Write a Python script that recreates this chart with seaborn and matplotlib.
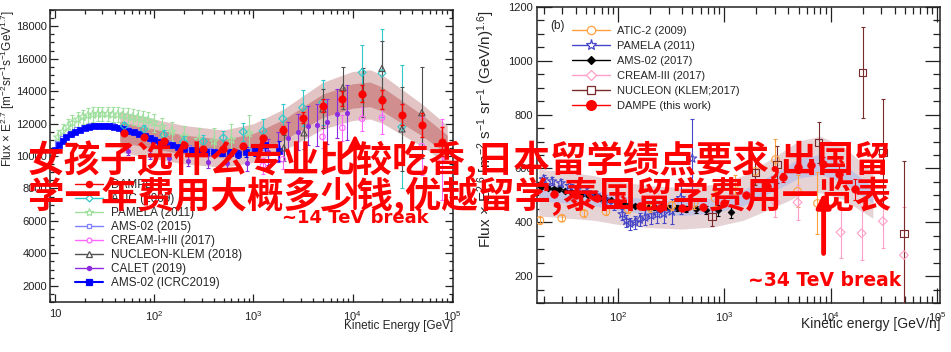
import numpy as np
import seaborn as sns
import matplotlib.pyplot as plt
from matplotlib.lines import Line2D
from matplotlib.ticker import LogLocator, MultipleLocator, FuncFormatter, NullFormatter

# ---------------- panel (a): protons, Flux x E^2.7 ----------------
pam_e = [10.7, 12, 13.5, 15, 17, 19, 21.5, 24, 27, 30, 34, 38, 43, 48, 54, 61, 68, 77, 87, 100, 120, 150, 200, 280, 400, 600, 900]
pam_v = [11150, 11500, 11800, 12050, 12250, 12400, 12500, 12550, 12600, 12600, 12600, 12550, 12550, 12500, 12450,
         12400, 12350, 12300, 12200, 12050, 11800, 11500, 11200, 11000, 10900, 11000, 11400]
pam_err = [450, 450, 450, 450, 450, 450, 450, 450, 450, 450, 450, 450, 450, 480, 480, 480, 500, 500, 520, 540, 560,
           600, 650, 700, 800, 950, 1100]

ams15_e = [10.5, 12, 14, 16.5, 19.5, 23, 27, 32, 38, 45, 54, 65, 78, 95, 115, 140, 175, 220, 280, 360, 480, 650, 900, 1300]
ams15_v = [10750, 11050, 11350, 11600, 11750, 11850, 11900, 11900, 11850, 11750, 11600, 11450, 11250, 11050, 10900,
           10750, 10600, 10500, 10400, 10350, 10300, 10300, 10400, 10500]

ams19_e = [10, 11, 12, 13, 14.5, 16, 18, 20, 22, 25, 28, 31, 35, 39, 44, 49, 55, 62, 70, 80, 90, 100, 115, 130, 150,
           175, 200, 240, 280, 330, 400, 480, 580, 700, 850, 1050, 1300, 1800]
ams19_v = [10400, 10700, 10950, 11150, 11350, 11500, 11620, 11720, 11780, 11830, 11850, 11850, 11830, 11790, 11720,
           11640, 11550, 11450, 11340, 11220, 11100, 11000, 10880, 10780, 10660, 10550, 10460, 10380, 10320, 10270,
           10230, 10200, 10200, 10150, 10250, 10350, 10700, 10300]
ams19_err = [60, 60, 60, 60, 60, 60, 60, 60, 60, 60, 60, 60, 60, 60, 60, 60, 60, 60, 70, 70, 70, 80, 80, 90, 90, 100,
             110, 120, 130, 140, 160, 180, 210, 250, 300, 360, 450, 600]

dampe_e = [50, 79, 125, 198, 314, 498, 790, 1250, 1980, 3140, 4980, 7900, 12500, 19800, 31400, 49800, 79000]
dampe_v = [11430, 11180, 10930, 10650, 10440, 10420, 10620, 11120, 11610, 12360, 13100, 13540, 13850, 13470, 12540,
           11920, 10870]
dampe_err = [80, 80, 80, 90, 100, 120, 150, 200, 260, 330, 400, 480, 550, 600, 650, 750, 900]

atic_e = [50, 79, 125, 198, 314, 498, 790, 1250, 1980, 3140, 4980, 12500, 19800, 31400]
atic_v = [11860, 11650, 11300, 10870, 10900, 11120, 11490, 11550, 12300, 12980, 13300, 15150, 15100, 11800]
atic_err = [250, 250, 300, 350, 400, 450, 550, 700, 900, 1100, 1400, 1700, 2700, 3800]

cream_e = [1250, 1980, 4980, 7900, 12500, 19800, 50000, 79000]
cream_v = [9400, 9800, 11180, 11740, 12300, 12360, 10600, 9800]
cream_err = [500, 600, 700, 800, 750, 1000, 1800, 2500]

nuc_e = [2030, 3240, 5030, 7970, 12700, 19800, 31500, 50000]
nuc_v = [10500, 11430, 12900, 14210, 13900, 15400, 11670, 12670]
nuc_err = [800, 1000, 1200, 1300, 1500, 1700, 2600, 2800]

calet_e = [55, 90, 140, 220, 350, 540, 860, 1400, 1770, 2250, 2830, 3560, 4370, 5530, 6950, 8750]
calet_v = [10300, 10050, 9850, 9700, 9620, 9580, 9560, 10250, 10560, 11120, 11490, 11860, 11930, 12110, 12610, 12670]
calet_err = [250, 250, 250, 300, 350, 400, 500, 800, 900, 1000, 1100, 1200, 1300, 1400, 1500, 1700]

band_e = [45, 100, 200, 500, 1000, 2000, 5000, 10000, 15000, 20000, 50000, 90000]
inner_lo = [10870, 10440, 10110, 9880, 10210, 10960, 12380, 12950, 13040, 12760, 11250, 10110]
inner_hi = [12130, 11660, 11290, 11020, 11390, 12240, 13820, 14450, 14560, 14240, 12550, 11290]
outer_lo = [10240, 9830, 9520, 9300, 9610, 10320, 11660, 12190, 12280, 12020, 10590, 9520]
outer_hi = [12760, 12270, 11880, 11600, 11990, 12880, 14540, 15210, 15320, 14990, 13210, 11880]

# ---------------- panel (b): Flux x E^2.6 per nucleon ----------------
atic2_e = [18.4, 29.6, 47.8, 77, 125, 200, 320, 520, 820, 1260, 1960, 3030, 4890, 7530]
atic2_v = [407, 415, 433, 440, 448, 455, 462, 470, 490, 540, 589, 633, 515, 470]
atic2_err = [12, 12, 13, 14, 15, 16, 18, 22, 28, 35, 45, 75, 60, 115]

pam2_e = [20, 24, 29, 35, 42, 51, 62, 75, 91, 110, 120, 130, 145, 160, 180, 205, 235, 270, 320, 390, 500]
pam2_v = [560, 552, 545, 535, 525, 512, 500, 485, 465, 430, 405, 395, 400, 410, 418, 425, 430, 432, 440, 490, 637]
pam2_err = [15, 15, 15, 15, 15, 15, 16, 17, 18, 20, 22, 22, 24, 25, 27, 30, 32, 35, 45, 60, 145]

ams17_e = [19, 22, 25, 28, 32, 36, 41, 46, 52, 59, 67, 76, 86, 98, 112, 128, 146, 167, 191, 220, 255, 300, 360, 440,
           540, 680, 880, 1150]
ams17_v = [530, 528, 525, 522, 518, 514, 510, 505, 500, 496, 492, 488, 482, 476, 470, 465, 462, 460, 458, 456, 455,
           454, 452, 450, 448, 446, 444, 440]
ams17_err = [6, 6, 6, 6, 6, 6, 6, 6, 6, 6, 6, 6, 6, 6, 7, 7, 7, 8, 8, 9, 9, 10, 11, 12, 14, 16, 20, 25]

cream2_e = [3030, 4890, 12400, 19600, 31000, 49000]
cream2_v = [474, 474, 363, 359, 404, 278]
cream2_err = [55, 65, 95, 100, 100, 180]

nuc2_e = [770, 1960, 3150, 7700, 20000, 31000, 49000]
nuc2_v = [422, 585, 615, 696, 956, 659, 359]
nuc2_err = [35, 45, 70, 75, 170, 200, 270]

dampe2_e = [25, 40, 63, 100, 160, 250, 400, 630, 1000, 1600, 2500, 3560, 4900, 6600, 8500, 12000, 17000]
dampe2_v = [505, 500, 490, 472, 460, 452, 452, 458, 470, 500, 535, 567, 604, 612, 615, 580, 522]
dampe2_err = [3, 3, 3, 3, 4, 4, 5, 6, 8, 10, 13, 16, 20, 24, 28, 32, 38]

band2_e = [18, 30, 60, 100, 200, 400, 800, 1500, 3000, 5000, 8000, 13000, 25000]
inner2_lo = [479, 473, 461, 444, 431, 425, 434, 461, 517, 564, 578, 550, 470]
inner2_hi = [541, 533, 519, 500, 485, 479, 490, 519, 583, 636, 652, 620, 530]
outer2_lo = [423, 417, 407, 392, 380, 375, 383, 407, 457, 498, 510, 486, 415]
outer2_hi = [597, 589, 573, 552, 536, 529, 541, 573, 644, 702, 720, 684, 585]

overlay_1 = "女孩子选什么专业比较吃香,日本留学绩点要求,出国留"
overlay_2 = "学一年费用大概多少钱,优越留学,泰国留学费用一览表"

sns.set_theme(style="ticks")
plt.rcParams['font.family'] = ['Liberation Sans', 'DejaVu Sans']
plt.rcParams['mathtext.fontset'] = 'custom'
plt.rcParams['mathtext.rm'] = 'Liberation Sans'
plt.rcParams['mathtext.it'] = 'Liberation Sans:italic'


def draw(ax, e, v, err, color, marker, size, filled=False, z=3, elw=0.8, lw=0.8):
    ax.errorbar(e, v, yerr=err, fmt='none', ecolor=color, elinewidth=elw, capsize=1.5, capthick=elw, zorder=z)
    if filled:
        sns.scatterplot(x=e, y=v, ax=ax, marker=marker, s=size, color=color, edgecolor=color,
                        linewidth=0.5, zorder=z + 0.1, legend=False)
    else:
        sns.scatterplot(x=e, y=v, ax=ax, marker=marker, s=size, facecolor='none', edgecolor=color,
                        linewidth=lw, zorder=z + 0.1, legend=False)


def handle(color, marker, ms, filled=False, lw=1.0):
    return Line2D([0], [0], color=color, lw=lw, marker=marker, ms=ms,
                  mfc=color if filled else 'white', mec=color, mew=0.9)


def decade(v, p):
    n = int(round(np.log10(v)))
    return '10' if n == 1 else r'$10^{%d}$' % n


def style_axes(ax, maj, mnr, majlen, minlen):
    ax.set_xscale('log')
    ax.xaxis.set_major_locator(LogLocator(base=10))
    ax.xaxis.set_minor_locator(LogLocator(base=10, subs=np.arange(2, 10)))
    ax.xaxis.set_minor_formatter(NullFormatter())
    ax.xaxis.set_major_formatter(FuncFormatter(decade))
    ax.yaxis.set_major_locator(MultipleLocator(maj))
    ax.yaxis.set_minor_locator(MultipleLocator(mnr))
    ax.tick_params(which='both', direction='in', top=True, right=True, colors='#222222', width=0.9)
    ax.tick_params(which='major', length=majlen)
    ax.tick_params(which='minor', length=minlen)
    for s in ax.spines.values():
        s.set_linewidth(1.1)
        s.set_color('#222222')


fig = plt.figure(figsize=(9.51, 3.52), dpi=100)

# ---------------- left panel ----------------
ax1 = fig.add_axes([50 / 951, 50 / 352, 403 / 951, 292 / 352])
ax1.fill_between(band_e, outer_lo, outer_hi, color='#e2c4c4', lw=0, zorder=1)
ax1.fill_between(band_e, inner_lo, inner_hi, color='#d08e8e', lw=0, zorder=1.5)

draw(ax1, pam_e, pam_v, pam_err, '#9fe09f', '*', 42)
draw(ax1, ams15_e, ams15_v, [60] * len(ams15_e), '#7f7fff', 's', 14)
draw(ax1, calet_e, calet_v, calet_err, '#8a2be2', 'o', 10, filled=True)
draw(ax1, ams19_e, ams19_v, ams19_err, '#0000ff', 's', 24, filled=True, z=4)
draw(ax1, atic_e, atic_v, atic_err, '#30c8c8', 'D', 16, z=4)
draw(ax1, cream_e, cream_v, cream_err, '#ff66ff', 'o', 16, z=4)
draw(ax1, nuc_e, nuc_v, nuc_err, '#505050', '^', 20, z=4)
draw(ax1, dampe_e, dampe_v, dampe_err, '#ff0000', 'o', 28, filled=True, z=5, elw=1.0)

ax1.set_xlim(8.9, 1.03e5)
ax1.set_ylim(1000, 19000)
style_axes(ax1, 2000, 500, 6, 3)
ax1.tick_params(labelsize=8, pad=2)
ax1.tick_params(axis='x', pad=5)
ax1.set_xlabel('Kinetic Energy [GeV]', fontsize=8.5, loc='right')
ax1.xaxis.set_label_coords(1.0, -0.062)
ax1.set_ylabel('Flux × E$^{2.7}$ [m$^{-2}$sr$^{-1}$s$^{-1}$GeV$^{1.7}$]', fontsize=8.5, loc='top')
ax1.yaxis.set_label_coords(-0.082, 1.0)

h1 = [handle('#ff0000', 'o', 4.5, True), handle('#30c8c8', 'D', 3.5), handle('#9fe09f', '*', 6),
      handle('#7f7fff', 's', 3.5), handle('#ff66ff', 'o', 3.5), handle('#505050', '^', 4),
      handle('#8a2be2', 'o', 3, True), handle('#0000ff', 's', 4, True, lw=1.5)]
l1 = ['DAMPE', 'ATIC (2009)', 'PAMELA (2011)', 'AMS-02 (2015)', 'CREAM-I+III (2017)', 'NUCLEON-KLEM (2018)',
      'CALET (2019)', 'AMS-02 (ICRC2019)']
ax1.legend(h1, l1, loc='upper left', bbox_to_anchor=(0.062, 0.421), frameon=False, fontsize=8.5,
           handlelength=2.37, handletextpad=0.68, labelspacing=0.17, borderpad=0, borderaxespad=0)

ax1.annotate('', xy=(1.06e4, 11500), xytext=(1.06e4, 6600),
             arrowprops=dict(arrowstyle='-|>', color='red', lw=2.5, mutation_scale=18), zorder=6)
ax1.text(1.06e4, 6150, '~14 TeV break', color='red', fontsize=13, fontweight='bold', family='DejaVu Sans',
         ha='center', va='center', zorder=6)

# ---------------- right panel ----------------
ax2 = fig.add_axes([537 / 951, 49 / 352, 403 / 951, 296 / 352])
ax2.fill_between(band2_e, outer2_lo, outer2_hi, color='#e6d3d6', lw=0, zorder=1)
ax2.fill_between(band2_e, inner2_lo, inner2_hi, color='#c5c3e2', lw=0, zorder=1.5)

draw(ax2, ams17_e, ams17_v, ams17_err, '#000000', 'D', 12, filled=True, z=3)
draw(ax2, pam2_e, pam2_v, pam2_err, '#4646c8', '*', 45, z=3)
draw(ax2, atic2_e, atic2_v, atic2_err, '#ffa040', 'o', 30, z=4)
draw(ax2, cream2_e, cream2_v, cream2_err, '#ff9fc8', 'D', 20, z=4)
draw(ax2, nuc2_e, nuc2_v, nuc2_err, '#7a2a2a', 's', 30, z=4)
draw(ax2, dampe2_e, dampe2_v, dampe2_err, '#ff0000', 'o', 30, filled=True, z=5)

ax2.set_xlim(17.3, 1.07e5)
ax2.set_ylim(100, 1200)
style_axes(ax2, 200, 50, 11, 5)
ax2.tick_params(labelsize=8, pad=3)
ax2.tick_params(axis='x', pad=5)
ax2.set_xlabel('Kinetic energy [GeV/n]', fontsize=10, loc='right')
ax2.xaxis.set_label_coords(1.0, -0.047)
ax2.set_ylabel('Flux × E$^{2.6}$ [m$^{-2}$ s$^{-1}$ sr$^{-1}$ (GeV/n)$^{1.6}$]', fontsize=11, loc='top')
ax2.yaxis.set_label_coords(-0.099, 0.99)
ax2.text(0.032, 0.936, '(b)', transform=ax2.transAxes, fontsize=8.5, ha='left', va='center')

h2 = [handle('#ffa040', 'o', 6), handle('#4646c8', '*', 8), handle('#000000', 'D', 4, True),
      handle('#ff9fc8', 'D', 5), handle('#7a2a2a', 's', 6), handle('#ff0000', 'o', 7, True)]
l2 = ['ATIC-2 (2009)', 'PAMELA (2011)', 'AMS-02 (2017)', 'CREAM-III (2017)', 'NUCLEON (KLEM;2017)',
      'DAMPE (this work)']
ax2.legend(h2, l2, loc='upper left', bbox_to_anchor=(0.087, 0.936), frameon=False, fontsize=8,
           handlelength=3.4, handletextpad=0.6, labelspacing=0.45, borderpad=0, borderaxespad=0)

ax2.annotate('', xy=(8600, 520), xytext=(8600, 274),
             arrowprops=dict(arrowstyle='-|>', color='red', lw=3.5, mutation_scale=20), zorder=6)
ax2.text(8850, 185, '~34 TeV break', color='red', fontsize=13.5, fontweight='bold', family='DejaVu Sans',
         ha='center', va='center', zorder=6)

# ---------------- overlay text ----------------
cjk = ['Noto Sans CJK SC', 'DejaVu Sans']
fig.text(28 / 951, 1 - 160 / 352, overlay_1, color='#ff0000', fontsize=26.3, fontweight='bold',
         family=cjk, ha='left', va='center', zorder=20)
fig.text(28 / 951, 1 - 196 / 352, overlay_2, color='#ff0000', fontsize=26.3, fontweight='bold',
         family=cjk, ha='left', va='center', zorder=20)

fig.savefig('out.png', dpi=100, facecolor='white')
